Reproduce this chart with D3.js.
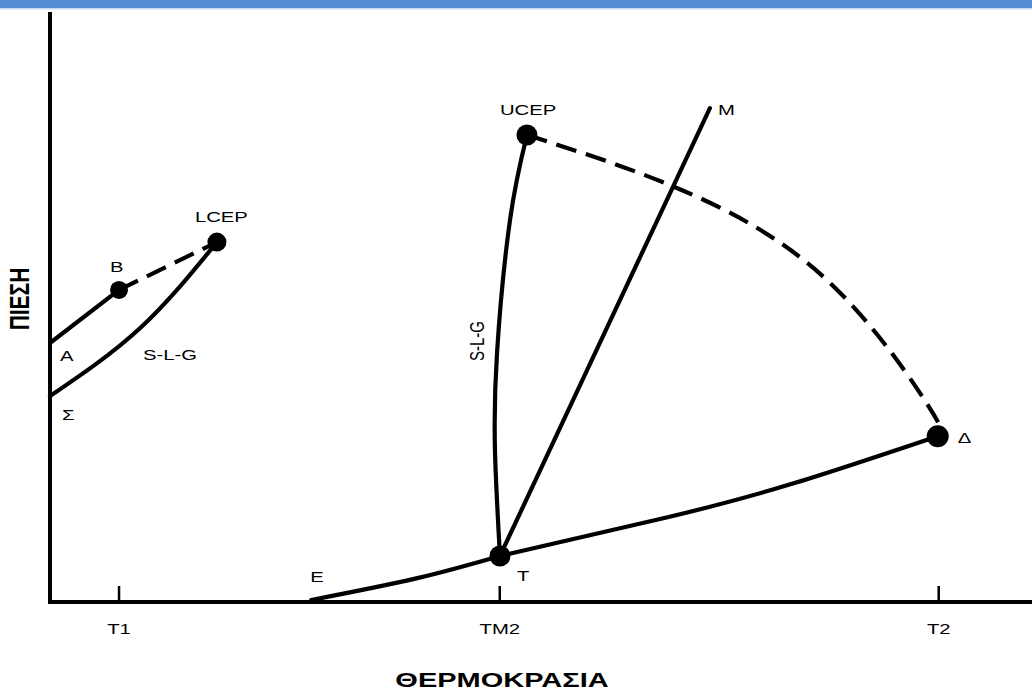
<!DOCTYPE html>
<html>
<head>
<meta charset="utf-8">
<script src="https://cdn.jsdelivr.net/npm/d3@7"></script>
<style>
  html, body { margin: 0; padding: 0; background: #fff; }
  svg { display: block; }
  text { font-family: "Liberation Sans", Arial, sans-serif; fill: #000; }
</style>
</head>
<body>
<svg id="chart" width="1032" height="690"></svg>
<script>
// Phase diagram (pressure vs temperature), arbitrary units 0..100 on both axes.

// Temperature ticks
const tickLabels = ["T1", "TM2", "T2"];
const tickValues = [7.03, 45.8, 90.5];

// Left branch: A -> B (solid), B -> LCEP (dashed), Σ -> LCEP (S-L-G)
const lineAB = [[0, 43.9], [7.03, 52.9]];
const lineBLCEP = [[7.03, 52.9], [17.0, 61.0]];
const curveSigmaLCEP = [[0, 34.9], [9.16, 46.4], [17.0, 61.0]];

// Right branch
const curveUcepT = [[48.57, 79.15], [46.84, 64.7], [45.52, 42.2], [45.32, 25.25], [45.82, 7.8]];
const curveUcepDelta = [[48.57, 79.15], [63.65, 70.3], [79.1, 54.6], [89.9, 32.0], [90.4, 28.1]];
const curveET = [[26.6, 0.34], [37.3, 4.0], [45.82, 7.8]];
const curveTDelta = [[45.82, 7.8], [63.0, 14.4], [75.9, 20.2], [90.4, 28.1]];
const lineTM = [[45.82, 7.8], [67.2, 83.7]];

// Marked points
const markerNames = ["B", "LCEP", "UCEP", "T", "Δ"];
const markerTemps = [7.03, 17.0, 48.57, 45.82, 90.4];
const markerPress = [52.9, 61.0, 79.15, 7.8, 28.1];
const markerRadius = [9, 9.5, 10.5, 10.5, 11];

// Labelled points
const labelNames = ["A", "Σ", "B", "LCEP", "UCEP", "M", "T", "E", "Δ"];
const labelTemps = [0, 0, 7.03, 17.0, 48.57, 67.2, 45.82, 26.6, 90.4];
const labelPress = [43.9, 34.9, 52.9, 61.0, 79.15, 83.7, 7.8, 0.34, 28.1];

const svg = d3.select("#chart");
const W = 1032, H = 690;
const STRETCH = 1.35; // horizontal text scale

const x = d3.scaleLinear().domain([0, 100]).range([50, 1032]);
const y = d3.scaleLinear().domain([0, 100]).range([602, 12]);

// header band
svg.append("rect").attr("x", 0).attr("y", 0).attr("width", W).attr("height", 8).attr("fill", "#558ed5");
svg.append("rect").attr("x", 0).attr("y", 8).attr("width", W).attr("height", 1.5).attr("fill", "#c5daf2");

function stretchedText(px, py, str, opts = {}) {
  const g = svg.append("g").attr("transform",
    `translate(${px},${py}) scale(${opts.sx || STRETCH},1)` + (opts.rotate ? ` rotate(${opts.rotate})` : ""));
  return g.append("text")
    .attr("x", 0).attr("y", 0)
    .attr("text-anchor", opts.anchor || "start")
    .attr("font-size", opts.size || 15)
    .attr("font-weight", opts.weight || "normal")
    .text(str);
}

// Axes via d3 axis generator (positions), drawn heavy
const xAxis = d3.axisBottom(x).tickValues(tickValues).tickFormat((d, i) => tickLabels[i]).tickSize(0);
const gx = svg.append("g").attr("transform", `translate(0,${y(0)})`).call(xAxis);
gx.select(".domain").remove();
gx.selectAll("text").remove();
svg.append("line").attr("x1", x(0) - 2).attr("x2", W).attr("y1", y(0)).attr("y2", y(0))
  .attr("stroke", "#000").attr("stroke-width", 4);
svg.append("line").attr("x1", x(0)).attr("x2", x(0)).attr("y1", y(100)).attr("y2", y(0) + 2)
  .attr("stroke", "#000").attr("stroke-width", 4);

// tick marks above the axis, labels below
tickValues.forEach((v, i) => {
  svg.append("line").attr("x1", x(v)).attr("x2", x(v)).attr("y1", y(0) - 16).attr("y2", y(0))
    .attr("stroke", "#000").attr("stroke-width", 2.5);
  stretchedText(x(v), 634, tickLabels[i], { anchor: "middle", size: 15 });
});

// axis titles
stretchedText(502, 687, "ΘΕΡΜΟΚΡΑΣΙΑ", { anchor: "middle", size: 20, weight: "bold", sx: 1.45 });
stretchedText(29, 299, "ΠΙΕΣΗ", { anchor: "middle", size: 21, weight: "bold", rotate: -90 });

// curves
const lineGen = d3.line().x(d => x(d[0])).y(d => y(d[1]));
const smooth = d3.line().x(d => x(d[0])).y(d => y(d[1])).curve(d3.curveNatural);

function draw(data, gen, dashed) {
  svg.append("path").attr("d", gen(data))
    .attr("fill", "none").attr("stroke", "#000").attr("stroke-width", 4.2)
    .attr("stroke-linecap", dashed ? "butt" : "round")
    .attr("stroke-dasharray", dashed ? "21 10" : null);
}

draw(lineAB, lineGen, false);
draw(lineBLCEP, lineGen, true);
draw(curveSigmaLCEP, smooth, false);
draw(curveUcepT, smooth, false);
draw(curveUcepDelta, smooth, true);
draw(curveET, smooth, false);
draw(curveTDelta, smooth, false);
draw(lineTM, lineGen, false);

// markers
markerNames.forEach((n, i) => {
  svg.append("circle").attr("cx", x(markerTemps[i])).attr("cy", y(markerPress[i]))
    .attr("r", markerRadius[i]).attr("fill", "#000");
});

// point labels (offsets relative to each point)
const labelOffsets = {
  "A": [10, 18], "Σ": [12, 24], "B": [-9, -18], "LCEP": [-22, -20], "UCEP": [-27, -20],
  "M": [8, 7], "T": [17, 25], "E": [-1, -18], "Δ": [20, 7]
};
labelNames.forEach((n, i) => {
  const o = labelOffsets[n];
  stretchedText(x(labelTemps[i]) + o[0], y(labelPress[i]) + o[1], n, { size: 15 });
});

// S-L-G annotations
stretchedText(143, 360, "S-L-G", { size: 15 });
stretchedText(484, 341, "S-L-G", { anchor: "middle", size: 15, rotate: -90 });
</script>
</body>
</html>
